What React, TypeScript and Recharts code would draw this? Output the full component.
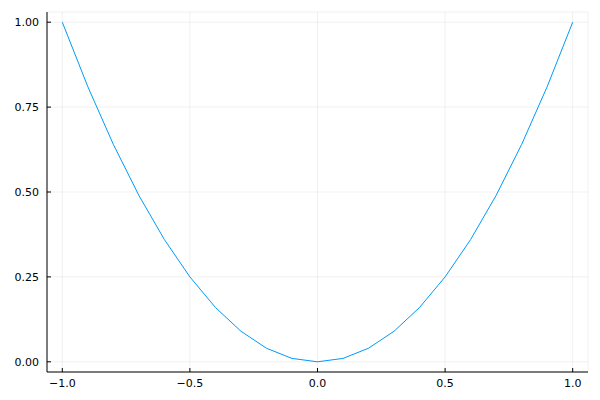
import { LineChart, Line, XAxis, YAxis, CartesianGrid } from 'recharts';

const xValues = [-1.0, -0.9, -0.8, -0.7, -0.6, -0.5, -0.4, -0.3, -0.2, -0.1, 0.0, 0.1, 0.2, 0.3, 0.4, 0.5, 0.6, 0.7, 0.8, 0.9, 1.0];
const yValues = [1.0, 0.81, 0.64, 0.49, 0.36, 0.25, 0.16, 0.09, 0.04, 0.01, 0.0, 0.01, 0.04, 0.09, 0.16, 0.25, 0.36, 0.49, 0.64, 0.81, 1.0];
const xTicks = [-1.0, -0.5, 0.0, 0.5, 1.0];
const yTicks = [0.0, 0.25, 0.5, 0.75, 1.0];

const data = xValues.map((x, i) => ({ x, y: yValues[i] }));

const fmt = (v: number, digits: number) => v.toFixed(digits).replace('-', '\u2212');

const XTick = (props: any) => {
  const { x, y, payload } = props;
  return (
    <g>
      <line x1={x} y1={y} x2={x} y2={y - 4} stroke="#000" strokeWidth={1} />
      <text x={x} y={y + 15} textAnchor="middle" fontSize={11} fill="#000" fontFamily="DejaVu Sans">
        {fmt(payload.value, 1)}
      </text>
    </g>
  );
};

const YTick = (props: any) => {
  const { x, y, payload } = props;
  return (
    <g>
      <line x1={x} y1={y} x2={x + 4} y2={y} stroke="#000" strokeWidth={1} />
      <text x={x - 8} y={y + 4} textAnchor="end" fontSize={11} fill="#000" fontFamily="DejaVu Sans">
        {fmt(payload.value, 2)}
      </text>
    </g>
  );
};

export default function App() {
  return (
    <div style={{ position: 'absolute', left: 0, top: 0, width: 600, height: 400, background: '#fff' }}>
      <LineChart width={600} height={400} data={data} margin={{ top: 12, right: 12, bottom: 0, left: 7 }}>
        <CartesianGrid stroke="#000" strokeOpacity={0.06} strokeWidth={1} />
        <XAxis
          dataKey="x"
          type="number"
          domain={[-1.06, 1.06]}
          ticks={xTicks}
          tick={<XTick />}
          tickSize={0}
          tickMargin={0}
          height={28}
          axisLine={{ stroke: '#000', strokeWidth: 1 }}
          interval={0}
        />
        <YAxis
          type="number"
          domain={[-0.03, 1.03]}
          ticks={yTicks}
          tick={<YTick />}
          tickSize={0}
          tickMargin={0}
          width={40}
          axisLine={{ stroke: '#000', strokeWidth: 1 }}
          interval={0}
        />
        <Line
          type="linear"
          dataKey="y"
          stroke="#009AFA"
          strokeWidth={1}
          dot={false}
          isAnimationActive={false}
        />
      </LineChart>
    </div>
  );
}
